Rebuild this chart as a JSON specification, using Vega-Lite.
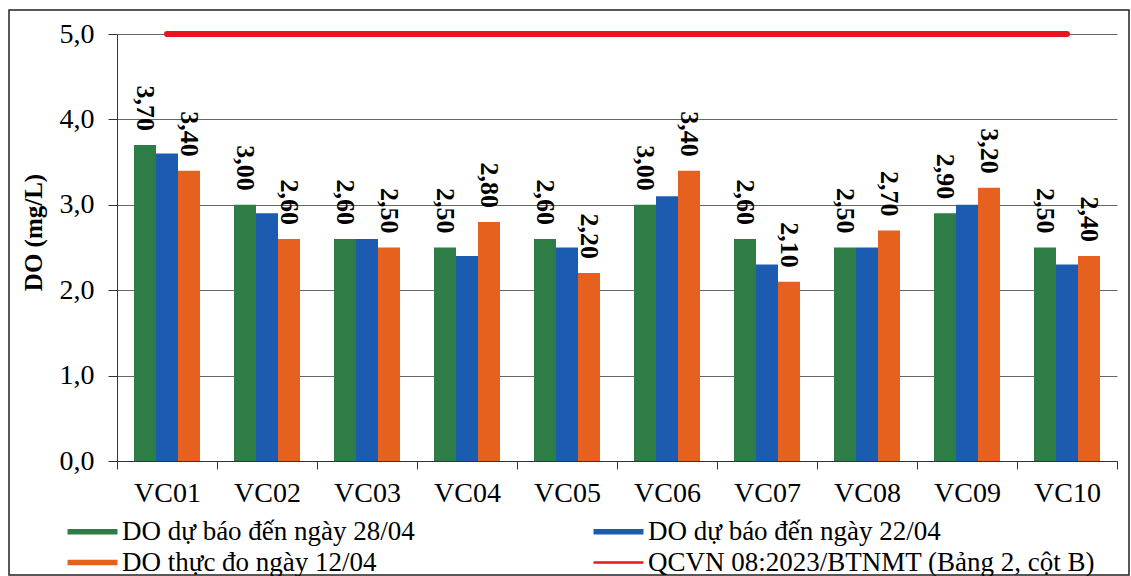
{
  "$schema": "https://vega.github.io/schema/vega-lite/v6.json",
  "width": 1120,
  "height": 565,
  "autosize": {"type": "none"},
  "padding": {"left": 9, "top": 10, "right": 2, "bottom": 1},
  "background": "white",
  "config": {
    "locale": {"number": {"decimal": ",", "thousands": ".", "grouping": [3], "currency": ["", ""]}},
    "view": {"stroke": "#222222", "strokeWidth": 1.5},
    "font": "Liberation Serif"
  },
  "datasets": {
    "do": [
      {"station": "VC01", "series": "DO dự báo đến ngày 28/04", "value": 3.7},
      {"station": "VC02", "series": "DO dự báo đến ngày 28/04", "value": 3.0},
      {"station": "VC03", "series": "DO dự báo đến ngày 28/04", "value": 2.6},
      {"station": "VC04", "series": "DO dự báo đến ngày 28/04", "value": 2.5},
      {"station": "VC05", "series": "DO dự báo đến ngày 28/04", "value": 2.6},
      {"station": "VC06", "series": "DO dự báo đến ngày 28/04", "value": 3.0},
      {"station": "VC07", "series": "DO dự báo đến ngày 28/04", "value": 2.6},
      {"station": "VC08", "series": "DO dự báo đến ngày 28/04", "value": 2.5},
      {"station": "VC09", "series": "DO dự báo đến ngày 28/04", "value": 2.9},
      {"station": "VC10", "series": "DO dự báo đến ngày 28/04", "value": 2.5},
      {"station": "VC01", "series": "DO dự báo đến ngày 22/04", "value": 3.6},
      {"station": "VC02", "series": "DO dự báo đến ngày 22/04", "value": 2.9},
      {"station": "VC03", "series": "DO dự báo đến ngày 22/04", "value": 2.6},
      {"station": "VC04", "series": "DO dự báo đến ngày 22/04", "value": 2.4},
      {"station": "VC05", "series": "DO dự báo đến ngày 22/04", "value": 2.5},
      {"station": "VC06", "series": "DO dự báo đến ngày 22/04", "value": 3.1},
      {"station": "VC07", "series": "DO dự báo đến ngày 22/04", "value": 2.3},
      {"station": "VC08", "series": "DO dự báo đến ngày 22/04", "value": 2.5},
      {"station": "VC09", "series": "DO dự báo đến ngày 22/04", "value": 3.0},
      {"station": "VC10", "series": "DO dự báo đến ngày 22/04", "value": 2.3},
      {"station": "VC01", "series": "DO thực đo ngày 12/04", "value": 3.4},
      {"station": "VC02", "series": "DO thực đo ngày 12/04", "value": 2.6},
      {"station": "VC03", "series": "DO thực đo ngày 12/04", "value": 2.5},
      {"station": "VC04", "series": "DO thực đo ngày 12/04", "value": 2.8},
      {"station": "VC05", "series": "DO thực đo ngày 12/04", "value": 2.2},
      {"station": "VC06", "series": "DO thực đo ngày 12/04", "value": 3.4},
      {"station": "VC07", "series": "DO thực đo ngày 12/04", "value": 2.1},
      {"station": "VC08", "series": "DO thực đo ngày 12/04", "value": 2.7},
      {"station": "VC09", "series": "DO thực đo ngày 12/04", "value": 3.2},
      {"station": "VC10", "series": "DO thực đo ngày 12/04", "value": 2.4}
    ],
    "qcvn": [
      {"station": "VC01", "series": "QCVN 08:2023/BTNMT (Bảng 2, cột B)", "value": 5},
      {"station": "VC02", "series": "QCVN 08:2023/BTNMT (Bảng 2, cột B)", "value": 5},
      {"station": "VC03", "series": "QCVN 08:2023/BTNMT (Bảng 2, cột B)", "value": 5},
      {"station": "VC04", "series": "QCVN 08:2023/BTNMT (Bảng 2, cột B)", "value": 5},
      {"station": "VC05", "series": "QCVN 08:2023/BTNMT (Bảng 2, cột B)", "value": 5},
      {"station": "VC06", "series": "QCVN 08:2023/BTNMT (Bảng 2, cột B)", "value": 5},
      {"station": "VC07", "series": "QCVN 08:2023/BTNMT (Bảng 2, cột B)", "value": 5},
      {"station": "VC08", "series": "QCVN 08:2023/BTNMT (Bảng 2, cột B)", "value": 5},
      {"station": "VC09", "series": "QCVN 08:2023/BTNMT (Bảng 2, cột B)", "value": 5},
      {"station": "VC10", "series": "QCVN 08:2023/BTNMT (Bảng 2, cột B)", "value": 5}
    ]
  },
  "layer": [
    {
      "data": {"name": "do"},
      "mark": {"type": "bar"},
      "encoding": {
        "x": {
          "field": "station", "type": "nominal",
          "scale": {"range": [108, 1108], "paddingInner": 0, "paddingOuter": 0},
          "axis": {
            "title": null, "labelAngle": 0, "labelFont": "Liberation Serif", "labelFontSize": 28,
            "labelColor": "black", "labelPadding": 10, "tickBand": "extent", "tickSize": 8,
            "domainColor": "#333333", "tickColor": "#333333", "offset": -114, "grid": false
          }
        },
        "xOffset": {
          "field": "series", "type": "nominal",
          "scale": {"domain": ["DO dự báo đến ngày 28/04", "DO dự báo đến ngày 22/04", "DO thực đo ngày 12/04"], "paddingInner": 0, "paddingOuter": 0.773}
        },
        "y": {
          "field": "value", "type": "quantitative",
          "scale": {"domain": [0, 5], "range": [451, 24], "nice": false},
          "axis": {
            "title": "DO (mg/L)", "titleFont": "Liberation Serif", "titleFontSize": 25, "titleFontWeight": "bold",
            "titleColor": "black", "titlePadding": 13, "titleY": 222, "labelFont": "Liberation Serif", "labelFontSize": 28,
            "labelColor": "black", "labelPadding": 14, "tickSize": 9, "tickColor": "#333333",
            "domainColor": "#333333", "gridColor": "#666666", "gridWidth": 1, "grid": true,
            "values": [0, 1, 2, 3, 4, 5], "format": ".1f", "offset": -108
          }
        },
        "color": {
          "field": "series", "type": "nominal",
          "scale": {
            "domain": ["DO dự báo đến ngày 28/04", "DO dự báo đến ngày 22/04", "DO thực đo ngày 12/04", "QCVN 08:2023/BTNMT (Bảng 2, cột B)"],
            "range": ["#2e7d46", "#1c5cb0", "#e6601e", "#e8141e"]
          },
          "legend": {
            "title": null, "orient": "none", "legendX": 70, "legendY": 508, "columns": 2, "direction": "horizontal",
            "columnPadding": 178, "rowPadding": 3, "symbolType": "M-2.27,-0.25H2.27V0.25H-2.27Z", "symbolSize": 484,
            "labelFont": "Liberation Serif", "labelFontSize": 27, "labelColor": "black", "labelLimit": 600,
            "labelOffset": 16, "symbolStrokeWidth": 0,
            "encode": {
              "symbols": {
                "update": {
                  "shape": {"signal": "datum.value === 'QCVN 08:2023/BTNMT (Bảng 2, cột B)' ? 'M-2.27,-0.11H2.27V0.11H-2.27Z' : 'M-2.27,-0.25H2.27V0.25H-2.27Z'"}
                }
              }
            }
          }
        }
      }
    },
    {
      "data": {"name": "do"},
      "transform": [{"filter": "datum.series !== 'DO dự báo đến ngày 22/04'"}],
      "mark": {"type": "text", "angle": 90, "align": "right", "baseline": "middle", "dx": -14, "font": "Liberation Serif", "fontSize": 26, "fontWeight": "bold", "color": "black"},
      "encoding": {
        "x": {"field": "station", "type": "nominal"},
        "xOffset": {"field": "series", "type": "nominal"},
        "y": {"field": "value", "type": "quantitative"},
        "text": {"field": "value", "type": "quantitative", "format": ".2f"}
      }
    },
    {
      "data": {"name": "qcvn"},
      "mark": {"type": "line", "strokeWidth": 6, "strokeCap": "round"},
      "encoding": {
        "x": {"field": "station", "type": "nominal"},
        "y": {"field": "value", "type": "quantitative"},
        "color": {"field": "series", "type": "nominal"}
      }
    }
  ]
}
